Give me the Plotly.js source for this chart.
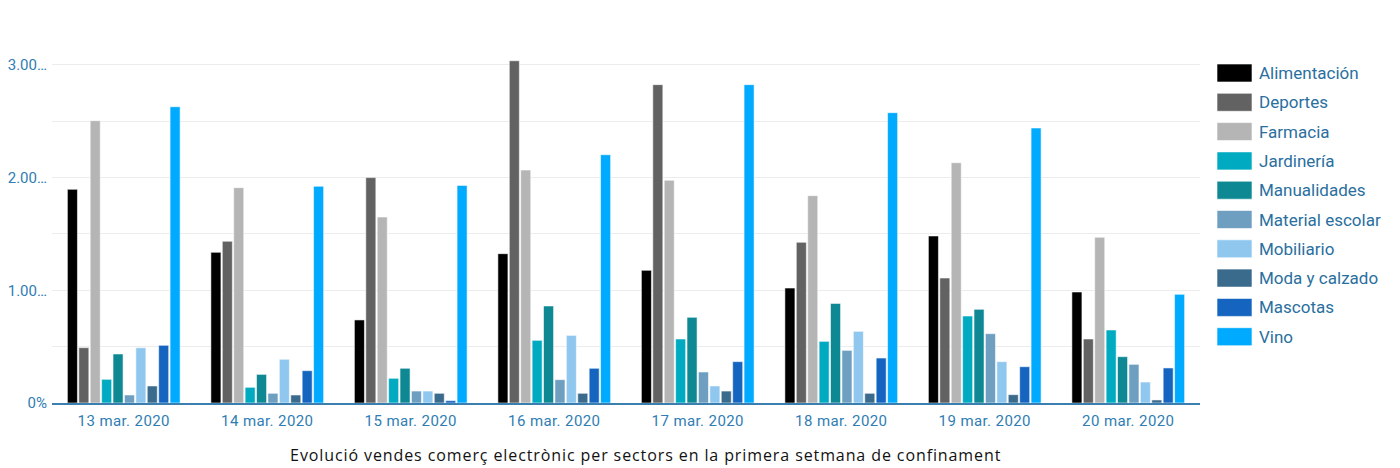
<!DOCTYPE html>
<html>
<head>
<meta charset="utf-8">
<script src="https://cdn.plot.ly/plotly-3.0.1.min.js"></script>
<style>
html,body{margin:0;padding:0;background:#fff;}
#chart{width:1400px;height:468px;}
.xtick text{letter-spacing:0.4px;}
</style>
</head>
<body>
<div id="chart"></div>
<script>
// Categories (dates)
const dates = ["13 mar. 2020","14 mar. 2020","15 mar. 2020","16 mar. 2020","17 mar. 2020","18 mar. 2020","19 mar. 2020","20 mar. 2020"];

// Series values (% growth)
const alimentacion    = [1896, 1337,  737, 1325, 1177, 1020, 1482,  985];
const deportes        = [ 491, 1435, 2000, 3037, 2825, 1426, 1109,  568];
const farmacia        = [2505, 1911, 1650, 2067, 1976, 1840, 2132, 1470];
const jardineria      = [ 210,  139,  219,  556,  568,  547,  772,  648];
const manualidades    = [ 435,  254,  308,  861,  760,  884,  831,  411];
const materialEscolar = [  71,   86,  106,  207,  275,  467,  615,  343];
const mobiliario      = [ 490,  388,  106,  600,  151,  636,  367,  186];
const modaCalzado     = [ 151,   71,   86,   86,  106,   86,   74,   27];
const mascotas        = [ 512,  287,   21,  308,  367,  399,  322,  311];
const vino            = [2629, 1923, 1931, 2203, 2825, 2576, 2440,  964];

const seriesNames = ["Alimentación","Deportes","Farmacia","Jardinería","Manualidades","Material escolar","Mobiliario","Moda y calzado","Mascotas","Vino"];
const seriesValues = [alimentacion, deportes, farmacia, jardineria, manualidades, materialEscolar, mobiliario, modaCalzado, mascotas, vino];
const seriesColors = ["#000000","#626262","#b5b5b5","#00abc2","#0e8893","#6e9ec0","#8fc7ee","#3a6a8c","#1565c0","#00aaff"];

// Y tick labels
const yTickVals = [0, 1000, 2000, 3000];
const yTickText = ["0%", "1.00…", "2.00…", "3.00…"];

const title = "Evolució vendes comerç electrònic per sectors en la primera setmana de confinament";

const W = 1400, H = 468;
const M = {l: 52, r: 200, t: 8, b: 65};
const plotW = W - M.l - M.r, plotH = H - M.t - M.b;
const pxX = px => (px - M.l) / plotW;
const pxY = py => (H - M.b - py) / plotH;

const traces = seriesNames.map((name, i) => ({
  type: 'bar',
  name: name,
  x: dates,
  y: seriesValues[i],
  marker: {color: seriesColors[i], line: {color: 'rgba(255,255,255,0.55)', width: 1}},
  showlegend: false,
  hoverinfo: 'x+y+name'
}));

const shapes = [];
const annotations = [];
const legX0 = 1217, legW = 35, legH = 18, legY0 = 64, legStep = 29.3;
seriesNames.forEach((name, i) => {
  const top = legY0 + i * legStep;
  shapes.push({
    type: 'rect', xref: 'paper', yref: 'paper',
    x0: pxX(legX0), x1: pxX(legX0 + legW), y0: pxY(top + legH), y1: pxY(top),
    fillcolor: seriesColors[i], line: {color: 'rgba(255,255,255,0.6)', width: 1}
  });
  annotations.push({
    xref: 'paper', yref: 'paper', x: pxX(1257), y: pxY(top + legH / 2),
    xanchor: 'left', yanchor: 'middle', showarrow: false,
    text: name, font: {family: 'Roboto, sans-serif', size: 17, color: '#2a6f9e'}
  });
});
annotations.push({
  xref: 'paper', yref: 'paper', x: pxX(646), y: pxY(455),
  xanchor: 'center', yanchor: 'middle', showarrow: false,
  text: title, font: {family: '"Open Sans", sans-serif', size: 16, color: '#111111'}
});

const layout = {
  width: W, height: H,
  margin: M,
  paper_bgcolor: '#ffffff', plot_bgcolor: '#ffffff',
  barmode: 'group', bargap: 0.205, bargroupgap: 0.12,
  showlegend: false,
  font: {family: 'Roboto, sans-serif', size: 14, color: '#2f7db3'},
  xaxis: {
    type: 'category',
    showgrid: false,
    showline: true, linecolor: '#3a7fb0', linewidth: 1.5,
    ticks: '', tickfont: {family: 'Roboto, sans-serif', size: 15, color: '#2f7db3'},
    ticklabelstandoff: 3
  },
  yaxis: {
    range: [0, 3505],
    tickvals: yTickVals, ticktext: yTickText,
    tickfont: {family: 'Roboto, sans-serif', size: 15, color: '#2f7db3'},
    showgrid: true, gridcolor: '#ececec', gridwidth: 1,
    minor: {dtick: 500, tick0: 0, showgrid: true, gridcolor: '#ececec', gridwidth: 1},
    zeroline: false, showline: false, ticks: '', ticklabelstandoff: 4
  },
  shapes: shapes,
  annotations: annotations
};

Plotly.newPlot('chart', traces, layout, {displayModeBar: false, staticPlot: true}).then(() => {
  document.querySelectorAll('.annotation-text').forEach(el => {
    if (el.textContent === title) el.style.letterSpacing = '0.9px';
  });
});
</script>
</body>
</html>
